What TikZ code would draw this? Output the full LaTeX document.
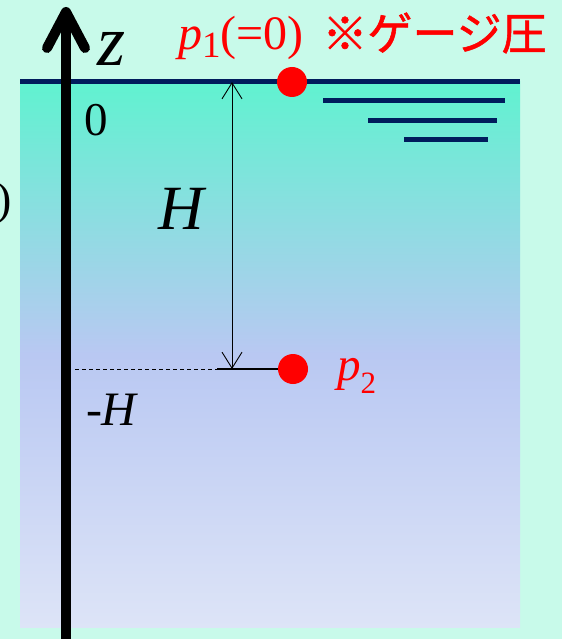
\documentclass[tikz,border=0pt]{standalone}
\usepackage{fontspec}
\setmainfont{Liberation Serif}
\newfontfamily\cjk{Noto Sans CJK JP}[FakeBold=1.2]
\usetikzlibrary{arrows.meta}
\definecolor{bgmint}{RGB}{200,250,234}
\definecolor{wtop}{RGB}{96,242,208}
\definecolor{wmid}{RGB}{185,200,242}
\definecolor{wbot}{RGB}{221,228,247}
\definecolor{navy}{RGB}{0,28,92}
\tikzset{
  lbl/.style={inner sep=0pt, outer sep=0pt, text=black},
  redlbl/.style={inner sep=0pt, outer sep=0pt, text=red},
  dot/.style={circle, fill=red, draw=none, minimum size=30pt, inner sep=0pt},
  navyline/.style={draw=navy, line width=5pt},
  dimarrow/.style={line width=0.9pt, {Straight Barb[length=16pt,width=20pt]}-{Straight Barb[length=16pt,width=20pt]}},
}
\begin{document}
\begin{tikzpicture}[x=1pt,y=-1pt]
\useasboundingbox (0,0) rectangle (562,639);
\fill[bgmint] (0,0) rectangle (562,639);
% water
\shade[top color=wtop, bottom color=wbot, middle color=wmid] (20,82) rectangle (520,627);
% surface lines
\coordinate (sL) at (20,82);
\coordinate (sR) at (520,82);
\draw[navyline] (sL) -- (sR);
\coordinate (t1a) at (323,101); \coordinate (t1b) at (505,101);
\coordinate (t2a) at (368,121); \coordinate (t2b) at (497,121);
\coordinate (t3a) at (404,140); \coordinate (t3b) at (488,140);
\draw[navyline] (t1a) -- (t1b);
\draw[navyline] (t2a) -- (t2b);
\draw[navyline] (t3a) -- (t3b);
% z axis
\coordinate (zbot) at (66,650);
\coordinate (ztip) at (66,12);
\coordinate (zwl) at (47,48);
\coordinate (zwr) at (85,48);
\draw[line width=10pt] (zbot) -- (ztip);
\draw[line width=10pt, line cap=round, line join=round] (zwl) -- (ztip) -- (zwr);
% dots
\node[dot] (p1dot) at (292,82) {};
\node[dot] (p2dot) at (293,369) {};
% depth line
\coordinate (dashL) at (75,369);
\coordinate (dashR) at (217,369);
\draw[line width=0.9pt, dash pattern=on 4pt off 3pt] (dashL) -- (dashR);
\draw[line width=2pt] (dashR) -- (p2dot.west);
% dimension arrow
\coordinate (dimtop) at (232,82);
\coordinate (dimbot) at (232,369);
\draw[dimarrow] (dimtop) -- (dimbot);
% labels
\node[lbl, anchor=base west] (zlab) at (97,66) {\fontsize{72}{72}\selectfont\itshape z};
\node[lbl, anchor=base west] (zero) at (84,136) {\fontsize{47}{47}\selectfont 0};
\node[lbl, anchor=base west] (Hlab) at (158,229) {\fontsize{63}{63}\selectfont\itshape H};
\node[lbl, anchor=base west] (mHlab) at (86,425) {\fontsize{48}{48}\selectfont\itshape -H};
\node[redlbl, anchor=base west] (p1lab) at (178,50) {\fontsize{48}{48}\selectfont{\itshape p}\raisebox{-8pt}{\fontsize{37}{37}\selectfont 1}(=0)};
\node[redlbl, anchor=center] (gauge) at (434.5,33) {\cjk\fontsize{45}{45}\selectfont ※ゲージ圧};
\node[redlbl, anchor=base west] (p2lab) at (337,380) {\fontsize{47}{47}\selectfont{\itshape p}\raisebox{-13pt}{\fontsize{31}{31}\selectfont 2}};
\node[lbl, anchor=base west] (paren) at (-3,214) {\fontsize{46}{46}\selectfont )};
\end{tikzpicture}
\end{document}
